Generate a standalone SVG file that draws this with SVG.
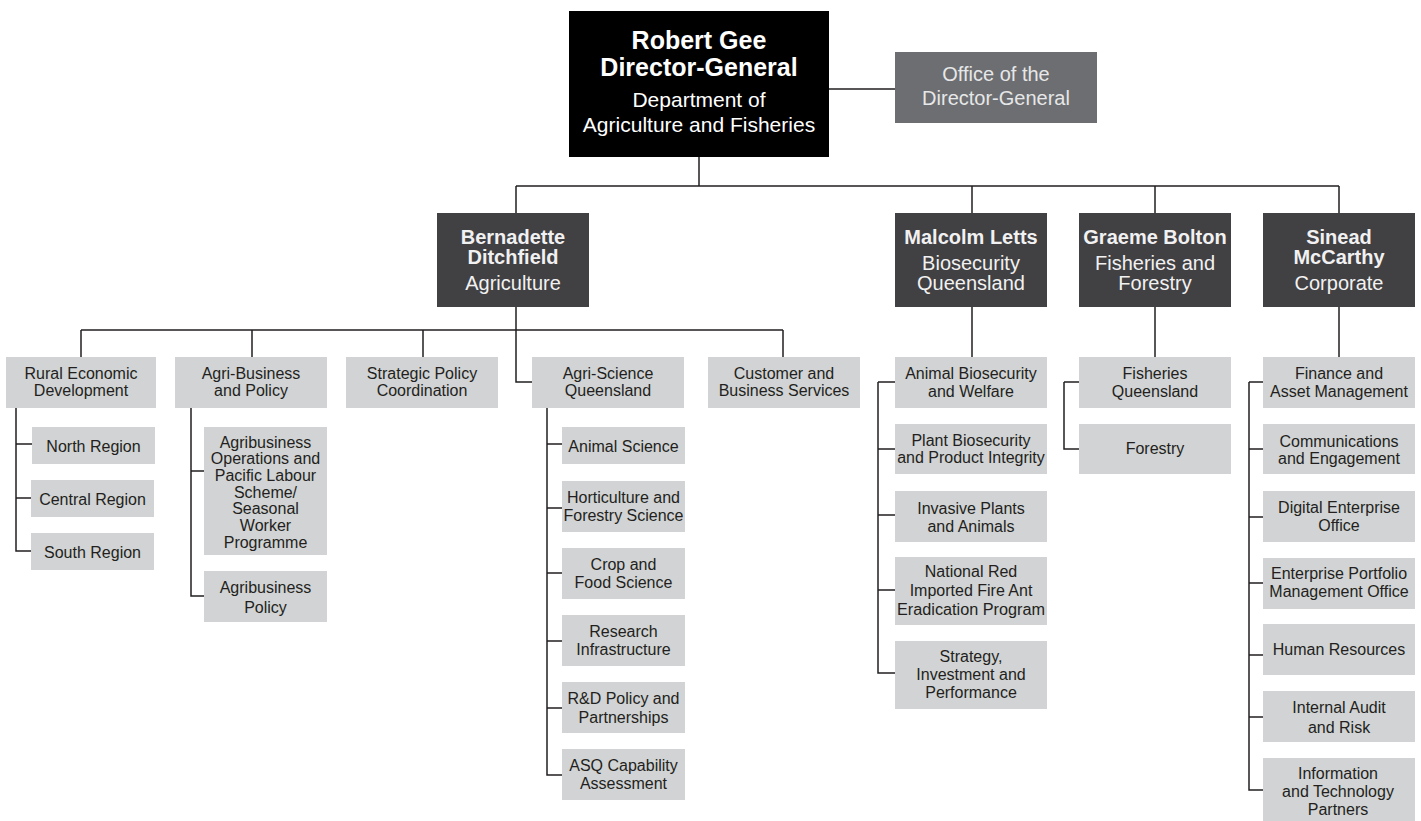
<svg xmlns="http://www.w3.org/2000/svg" width="1421" height="821" viewBox="0 0 1421 821">
<style>
.bg{fill:#ffffff}
.dgbox{fill:#000000}
.off{fill:#6d6e71}
.mgr{fill:#414042}
.sb{fill:#d1d3d4}
text{font-family:"Liberation Sans",Arial,Helvetica,sans-serif;text-anchor:middle}
.tb{font-size:25px;font-weight:bold;fill:#ffffff}
.tr{font-size:21px;fill:#ffffff}
.ot{font-size:20px;fill:#e6e7e8}
.mb{font-size:20px;font-weight:bold;fill:#f1f1f2}
.mr{font-size:20px;fill:#f1f1f2}
.st{font-size:16px;fill:#231f20}
.con{fill:none;stroke:#231f20;stroke-width:1.5}
</style>
<rect class="bg" x="0" y="0" width="1421" height="821"/>
<g id="connectors">
<path class="con" d="M699 157V186M516 186H1339M516 186V213M972 186V213M1155 186V213M1339 186V213M829 89H895"/>
<path class="con" d="M516 307V382H532M81 330H783M81 330V357M252 330V357M423 330V357M783 330V357"/>
<path class="con" d="M16 408V551H31M16 444H32M16 498H31"/>
<path class="con" d="M191 408V596H204M191 471H204"/>
<path class="con" d="M547 408V775H562M547 444H562M547 508H562M547 573H562M547 641H562M547 708H562"/>
<path class="con" d="M972 307V357M878 382V673H895M878 382H895M878 449H895M878 515H895M878 590H895"/>
<path class="con" d="M1155 307V357M1064 382V449H1079M1064 382H1079"/>
<path class="con" d="M1339 307V357M1249 382V790H1263M1249 382H1263M1249 449H1263M1249 517H1263M1249 583H1263M1249 655H1263M1249 717H1263"/>
</g>
<g id="dg"><rect class="dgbox" x="569" y="11" width="260" height="146"/><text class="tb" x="699" y="49">Robert Gee</text><text class="tb" x="699" y="76">Director-General</text><text class="tr" x="699" y="107">Department of</text><text class="tr" x="699" y="132">Agriculture and Fisheries</text></g>
<g id="office"><rect class="off" x="895" y="52" width="202" height="71"/><text class="ot" x="996" y="81">Office of the</text><text class="ot" x="996" y="105">Director-General</text></g>
<g id="agriculture"><rect class="mgr" x="437" y="213" width="152" height="94"/><text class="mb" x="513" y="244">Bernadette</text><text class="mb" x="513" y="264">Ditchfield</text><text class="mr" x="513" y="290">Agriculture</text></g>
<g id="biosecurity"><rect class="mgr" x="895" y="213" width="152" height="94"/><text class="mb" x="971" y="244">Malcolm Letts</text><text class="mr" x="971" y="270">Biosecurity</text><text class="mr" x="971" y="290">Queensland</text></g>
<g id="fisheries"><rect class="mgr" x="1079" y="213" width="152" height="94"/><text class="mb" x="1155" y="244">Graeme Bolton</text><text class="mr" x="1155" y="270">Fisheries and</text><text class="mr" x="1155" y="290">Forestry</text></g>
<g id="corporate"><rect class="mgr" x="1263" y="213" width="152" height="94"/><text class="mb" x="1339" y="244">Sinead</text><text class="mb" x="1339" y="264">McCarthy</text><text class="mr" x="1339" y="290">Corporate</text></g>
<g id="rural"><rect class="sb" x="6" y="357" width="150" height="51"/><text class="st" x="81" y="379">Rural Economic</text><text class="st" x="81" y="396">Development</text></g>
<g id="agribusiness"><rect class="sb" x="175" y="357" width="152" height="51"/><text class="st" x="251" y="379">Agri-Business</text><text class="st" x="251" y="396">and Policy</text></g>
<g id="strategic"><rect class="sb" x="346" y="357" width="152" height="51"/><text class="st" x="422" y="379">Strategic Policy</text><text class="st" x="422" y="396">Coordination</text></g>
<g id="agriscience"><rect class="sb" x="532" y="357" width="152" height="51"/><text class="st" x="608" y="379">Agri-Science</text><text class="st" x="608" y="396">Queensland</text></g>
<g id="customer"><rect class="sb" x="708" y="357" width="152" height="51"/><text class="st" x="784" y="379">Customer and</text><text class="st" x="784" y="396">Business Services</text></g>
<g id="north"><rect class="sb" x="32" y="427" width="123" height="37"/><text class="st" x="93.5" y="452">North Region</text></g>
<g id="central"><rect class="sb" x="31" y="480" width="123" height="37"/><text class="st" x="92.5" y="505">Central Region</text></g>
<g id="south"><rect class="sb" x="31" y="533" width="123" height="37"/><text class="st" x="92.5" y="558">South Region</text></g>
<g id="agriops"><rect class="sb" x="204" y="427" width="123" height="128"/><text class="st" x="265.5" y="447.5">Agribusiness</text><text class="st" x="265.5" y="464.2">Operations and</text><text class="st" x="265.5" y="480.9">Pacific Labour</text><text class="st" x="265.5" y="497.6">Scheme/</text><text class="st" x="265.5" y="514.3">Seasonal</text><text class="st" x="265.5" y="531">Worker</text><text class="st" x="265.5" y="547.7">Programme</text></g>
<g id="agripolicy"><rect class="sb" x="204" y="571" width="123" height="51"/><text class="st" x="265.5" y="593">Agribusiness</text><text class="st" x="265.5" y="613">Policy</text></g>
<g id="animalsci"><rect class="sb" x="562" y="427" width="123" height="37"/><text class="st" x="623.5" y="452">Animal Science</text></g>
<g id="horti"><rect class="sb" x="562" y="481" width="123" height="51"/><text class="st" x="623.5" y="503">Horticulture and</text><text class="st" x="623.5" y="521">Forestry Science</text></g>
<g id="crop"><rect class="sb" x="562" y="548" width="123" height="51"/><text class="st" x="623.5" y="570">Crop and</text><text class="st" x="623.5" y="588">Food Science</text></g>
<g id="research"><rect class="sb" x="562" y="615" width="123" height="51"/><text class="st" x="623.5" y="637">Research</text><text class="st" x="623.5" y="655">Infrastructure</text></g>
<g id="rnd"><rect class="sb" x="562" y="682" width="123" height="51"/><text class="st" x="623.5" y="704">R&amp;D Policy and</text><text class="st" x="623.5" y="723">Partnerships</text></g>
<g id="asq"><rect class="sb" x="562" y="749" width="123" height="51"/><text class="st" x="623.5" y="771">ASQ Capability</text><text class="st" x="623.5" y="789">Assessment</text></g>
<g id="animalbio"><rect class="sb" x="895" y="357" width="152" height="51"/><text class="st" x="971" y="379">Animal Biosecurity</text><text class="st" x="971" y="397">and Welfare</text></g>
<g id="plantbio"><rect class="sb" x="895" y="424" width="152" height="50"/><text class="st" x="971" y="446">Plant Biosecurity</text><text class="st" x="971" y="463">and Product Integrity</text></g>
<g id="invasive"><rect class="sb" x="895" y="491" width="152" height="51"/><text class="st" x="971" y="514">Invasive Plants</text><text class="st" x="971" y="532">and Animals</text></g>
<g id="fireant"><rect class="sb" x="895" y="557" width="152" height="68"/><text class="st" x="971" y="577">National Red</text><text class="st" x="971" y="596">Imported Fire Ant</text><text class="st" x="971" y="615" textLength="148" lengthAdjust="spacingAndGlyphs">Eradication Program</text></g>
<g id="strategy"><rect class="sb" x="895" y="641" width="152" height="68"/><text class="st" x="971" y="662">Strategy,</text><text class="st" x="971" y="680">Investment and</text><text class="st" x="971" y="698">Performance</text></g>
<g id="fisheriesqld"><rect class="sb" x="1079" y="357" width="152" height="51"/><text class="st" x="1155" y="379">Fisheries</text><text class="st" x="1155" y="397">Queensland</text></g>
<g id="forestry"><rect class="sb" x="1079" y="424" width="152" height="50"/><text class="st" x="1155" y="454">Forestry</text></g>
<g id="finance"><rect class="sb" x="1263" y="357" width="152" height="51"/><text class="st" x="1339" y="379">Finance and</text><text class="st" x="1339" y="397">Asset Management</text></g>
<g id="comms"><rect class="sb" x="1263" y="424" width="152" height="50"/><text class="st" x="1339" y="447">Communications</text><text class="st" x="1339" y="464">and Engagement</text></g>
<g id="digital"><rect class="sb" x="1263" y="491" width="152" height="51"/><text class="st" x="1339" y="513">Digital Enterprise</text><text class="st" x="1339" y="531">Office</text></g>
<g id="portfolio"><rect class="sb" x="1263" y="558" width="152" height="51"/><text class="st" x="1339" y="579">Enterprise Portfolio</text><text class="st" x="1339" y="597">Management Office</text></g>
<g id="hr"><rect class="sb" x="1263" y="624" width="152" height="51"/><text class="st" x="1339" y="655">Human Resources</text></g>
<g id="audit"><rect class="sb" x="1263" y="691" width="152" height="51"/><text class="st" x="1339" y="713">Internal Audit</text><text class="st" x="1339" y="733">and Risk</text></g>
<g id="ict"><rect class="sb" x="1263" y="758" width="152" height="63"/><text class="st" x="1338" y="779">Information</text><text class="st" x="1338" y="797">and Technology</text><text class="st" x="1338" y="815">Partners</text></g>
</svg>
